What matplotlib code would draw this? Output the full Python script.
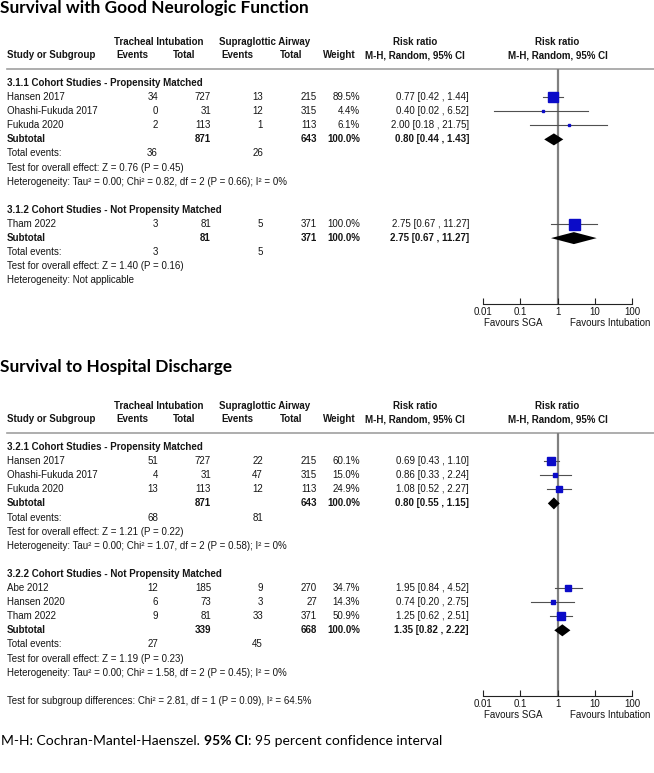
import matplotlib.pyplot as plt

plt.rcParams['font.family'] = ['Liberation Sans', 'DejaVu Sans']

# ---------------- data: Survival with Good Neurologic Function ----------------
neuro_group_names = ['3.1.1 Cohort Studies - Propensity Matched',
                     '3.1.2 Cohort Studies - Not Propensity Matched']

neuro_a_study = ['Hansen 2017', 'Ohashi-Fukuda 2017', 'Fukuda 2020']
neuro_a_ti_events = [34, 0, 2]
neuro_a_ti_total = [727, 31, 113]
neuro_a_sga_events = [13, 12, 1]
neuro_a_sga_total = [215, 315, 113]
neuro_a_weight = [89.5, 4.4, 6.1]
neuro_a_rr = [0.77, 0.40, 2.00]
neuro_a_lo = [0.42, 0.02, 0.18]
neuro_a_hi = [1.44, 6.52, 21.75]
neuro_a_sub = [871, 643, 100.0, 0.80, 0.44, 1.43]
neuro_a_events = [36, 26]
neuro_a_test = 'Test for overall effect: Z = 0.76 (P = 0.45)'
neuro_a_het = 'Heterogeneity: Tau² = 0.00; Chi² = 0.82, df = 2 (P = 0.66); I² = 0%'

neuro_b_study = ['Tham 2022']
neuro_b_ti_events = [3]
neuro_b_ti_total = [81]
neuro_b_sga_events = [5]
neuro_b_sga_total = [371]
neuro_b_weight = [100.0]
neuro_b_rr = [2.75]
neuro_b_lo = [0.67]
neuro_b_hi = [11.27]
neuro_b_sub = [81, 371, 100.0, 2.75, 0.67, 11.27]
neuro_b_events = [3, 5]
neuro_b_test = 'Test for overall effect: Z = 1.40 (P = 0.16)'
neuro_b_het = 'Heterogeneity: Not applicable'

# ---------------- data: Survival to Hospital Discharge ----------------
disch_group_names = ['3.2.1 Cohort Studies - Propensity Matched',
                     '3.2.2 Cohort Studies - Not Propensity Matched']

disch_a_study = ['Hansen 2017', 'Ohashi-Fukuda 2017', 'Fukuda 2020']
disch_a_ti_events = [51, 4, 13]
disch_a_ti_total = [727, 31, 113]
disch_a_sga_events = [22, 47, 12]
disch_a_sga_total = [215, 315, 113]
disch_a_weight = [60.1, 15.0, 24.9]
disch_a_rr = [0.69, 0.86, 1.08]
disch_a_lo = [0.43, 0.33, 0.52]
disch_a_hi = [1.10, 2.24, 2.27]
disch_a_sub = [871, 643, 100.0, 0.80, 0.55, 1.15]
disch_a_events = [68, 81]
disch_a_test = 'Test for overall effect: Z = 1.21 (P = 0.22)'
disch_a_het = 'Heterogeneity: Tau² = 0.00; Chi² = 1.07, df = 2 (P = 0.58); I² = 0%'

disch_b_study = ['Abe 2012', 'Hansen 2020', 'Tham 2022']
disch_b_ti_events = [12, 6, 9]
disch_b_ti_total = [185, 73, 81]
disch_b_sga_events = [9, 3, 33]
disch_b_sga_total = [270, 27, 371]
disch_b_weight = [34.7, 14.3, 50.9]
disch_b_rr = [1.95, 0.74, 1.25]
disch_b_lo = [0.84, 0.20, 0.62]
disch_b_hi = [4.52, 2.75, 2.51]
disch_b_sub = [339, 668, 100.0, 1.35, 0.82, 2.22]
disch_b_events = [27, 45]
disch_b_test = 'Test for overall effect: Z = 1.19 (P = 0.23)'
disch_b_het = 'Heterogeneity: Tau² = 0.00; Chi² = 1.58, df = 2 (P = 0.45); I² = 0%'
disch_subgroup_test = 'Test for subgroup differences: Chi² = 2.81, df = 1 (P = 0.09), I² = 64.5%'

axis_ticks = [0.01, 0.1, 1, 10, 100]
axis_labels = ['0.01', '0.1', '1', '10', '100']


def group(name, study, ev1, tot1, ev2, tot2, w, rr, lo, hi, sub, events, test, het):
    return dict(name=name, study=study, ev1=ev1, tot1=tot1, ev2=ev2, tot2=tot2,
                w=w, rr=rr, lo=lo, hi=hi, sub=sub, events=events, test=test, het=het)


neuro_groups = [
    group(neuro_group_names[0], neuro_a_study, neuro_a_ti_events, neuro_a_ti_total,
          neuro_a_sga_events, neuro_a_sga_total, neuro_a_weight, neuro_a_rr,
          neuro_a_lo, neuro_a_hi, neuro_a_sub, neuro_a_events, neuro_a_test, neuro_a_het),
    group(neuro_group_names[1], neuro_b_study, neuro_b_ti_events, neuro_b_ti_total,
          neuro_b_sga_events, neuro_b_sga_total, neuro_b_weight, neuro_b_rr,
          neuro_b_lo, neuro_b_hi, neuro_b_sub, neuro_b_events, neuro_b_test, neuro_b_het),
]
disch_groups = [
    group(disch_group_names[0], disch_a_study, disch_a_ti_events, disch_a_ti_total,
          disch_a_sga_events, disch_a_sga_total, disch_a_weight, disch_a_rr,
          disch_a_lo, disch_a_hi, disch_a_sub, disch_a_events, disch_a_test, disch_a_het),
    group(disch_group_names[1], disch_b_study, disch_b_ti_events, disch_b_ti_total,
          disch_b_sga_events, disch_b_sga_total, disch_b_weight, disch_b_rr,
          disch_b_lo, disch_b_hi, disch_b_sub, disch_b_events, disch_b_test, disch_b_het),
]

# ---------------- layout (pixels) ----------------
W, H = 654, 773
ROW = 14.1
FS = 7
TXT = '#151515'
BLUE = '#0b0bc8'
X_STUDY, X_EV1, X_TOT1, X_EV2, X_TOT2, X_W, X_CI = 7, 158, 211, 263, 317, 360, 469
X_LEFT, X_RIGHT = 483, 632

fig = plt.figure(figsize=(W / 100, H / 100), dpi=100)
ax = fig.add_axes([0, 0, 1, 1])
ax.set_xlim(0, W)
ax.set_ylim(H, 0)
ax.axis('off')


def txt(x, y, s, ha='left', bold=False, **kw):
    ax.text(x, y, s, ha=ha, va='center', fontsize=FS, color=TXT,
            fontweight='bold' if bold else 'normal', **kw)


def fmt_ci(rr, lo, hi):
    return f'{rr:.2f} [{lo:.2f} , {hi:.2f}]'


def draw_panel(title, title_y, top, groups, subgroup_test=None):
    ax.text(0, title_y, title, fontfamily='Lato', fontweight='bold', fontsize=12.4,
            va='center', ha='left', color='black')
    h1, h2 = top - 27, top - 13.5
    txt(158.5, h1, 'Tracheal Intubation', ha='center', bold=True)
    txt(265, h1, 'Supraglottic Airway', ha='center', bold=True)
    txt(415, h1, 'Risk ratio', ha='center', bold=True)
    txt(557.5, h1, 'Risk ratio', ha='center', bold=True)
    txt(X_STUDY, h2, 'Study or Subgroup', bold=True)
    txt(132, h2, 'Events', ha='center', bold=True)
    txt(184.5, h2, 'Total', ha='center', bold=True)
    txt(237.5, h2, 'Events', ha='center', bold=True)
    txt(291.5, h2, 'Total', ha='center', bold=True)
    txt(339.5, h2, 'Weight', ha='center', bold=True)
    txt(415, h2, 'M-H, Random, 95% CI', ha='center', bold=True)
    txt(557.5, h2, 'M-H, Random, 95% CI', ha='center', bold=True)
    ax.plot([X_STUDY, W], [top, top], color='#a0a0a0', lw=1.2)

    y = top + 14
    marks = []   # (y, rr, lo, hi, weight, is_subtotal)
    for g in groups:
        txt(X_STUDY, y, g['name'], bold=True)
        y += ROW
        for i, s in enumerate(g['study']):
            txt(X_STUDY, y, s)
            txt(X_EV1, y, str(g['ev1'][i]), ha='right')
            txt(X_TOT1, y, str(g['tot1'][i]), ha='right')
            txt(X_EV2, y, str(g['ev2'][i]), ha='right')
            txt(X_TOT2, y, str(g['tot2'][i]), ha='right')
            txt(X_W, y, f"{g['w'][i]:.1f}%", ha='right')
            txt(X_CI, y, fmt_ci(g['rr'][i], g['lo'][i], g['hi'][i]), ha='right')
            marks.append((y, g['rr'][i], g['lo'][i], g['hi'][i], g['w'][i], False))
            y += ROW
        t1, t2, wt, rr, lo, hi = g['sub']
        txt(X_STUDY, y, 'Subtotal', bold=True)
        txt(X_TOT1, y, str(t1), ha='right', bold=True)
        txt(X_TOT2, y, str(t2), ha='right', bold=True)
        txt(X_W, y, f'{wt:.1f}%', ha='right', bold=True)
        txt(X_CI, y, fmt_ci(rr, lo, hi), ha='right', bold=True)
        marks.append((y, rr, lo, hi, wt, True))
        y += ROW
        txt(X_STUDY, y, 'Total events:')
        txt(X_EV1, y, str(g['events'][0]), ha='right')
        txt(X_EV2, y, str(g['events'][1]), ha='right')
        y += ROW
        txt(X_STUDY, y, g['test'])
        y += ROW
        txt(X_STUDY, y, g['het'])
        last = y
        y += 2 * ROW

    axis_y = last + 23.5
    if subgroup_test:
        txt(X_STUDY, last + 2 * ROW, subgroup_test)

    fa = fig.add_axes([X_LEFT / W, 1 - axis_y / H, (X_RIGHT - X_LEFT) / W, (axis_y - top) / H])
    fa.set_xscale('log')
    fa.set_xlim(0.01, 100)
    fa.set_ylim(axis_y, top)
    fa.patch.set_visible(False)
    for sp in ['top', 'left', 'right']:
        fa.spines[sp].set_visible(False)
    fa.spines['bottom'].set_linewidth(0.8)
    fa.spines['bottom'].set_color('#222222')
    fa.set_yticks([])
    fa.set_xticks(axis_ticks)
    fa.set_xticklabels(axis_labels, fontsize=FS, color=TXT)
    fa.minorticks_off()
    fa.tick_params(axis='x', direction='in', length=4, width=0.8, pad=2, colors='#222222',
                   labelcolor=TXT)
    fa.axvline(1, color='#808080', lw=1.6, zorder=1)

    for (my, rr, lo, hi, wt, is_sub) in marks:
        if is_sub:
            fa.fill([lo, rr, hi, rr], [my, my - 6, my, my + 6], color='black', zorder=4,
                    lw=0)
        else:
            fa.plot([lo, hi], [my, my], color='#505050', lw=0.8, zorder=2)
            side = 1.1 * wt ** 0.5
            fa.plot([rr], [my], marker='s', ms=max(side, 2) * 0.72, color=BLUE,
                    mec=BLUE, zorder=3)

    ax.text(513, axis_y + 19, 'Favours SGA', ha='center', va='center', fontsize=FS, color=TXT)
    ax.text(610, axis_y + 19, 'Favours Intubation', ha='center', va='center', fontsize=FS,
            color=TXT)


draw_panel('Survival with Good Neurologic Function', 8, 69, neuro_groups)
draw_panel('Survival to Hospital Discharge', 367, 433, disch_groups, disch_subgroup_test)

# footnote with bold segment
f1 = ax.text(1, 741, 'M-H: Cochran-Mantel-Haenszel.', fontfamily='Lato', fontsize=10,
             va='center', ha='left', color='black')
f2 = ax.annotate('95% CI', xy=(1, 0), xycoords=f1, xytext=(3, 0), textcoords='offset points',
                 fontfamily='Lato', fontweight='bold', fontsize=10, va='bottom', ha='left')
ax.annotate(': 95 percent confidence interval', xy=(1, 0), xycoords=f2, fontfamily='Lato',
            fontsize=10, va='bottom', ha='left')

fig.savefig('out.png', dpi=100)
